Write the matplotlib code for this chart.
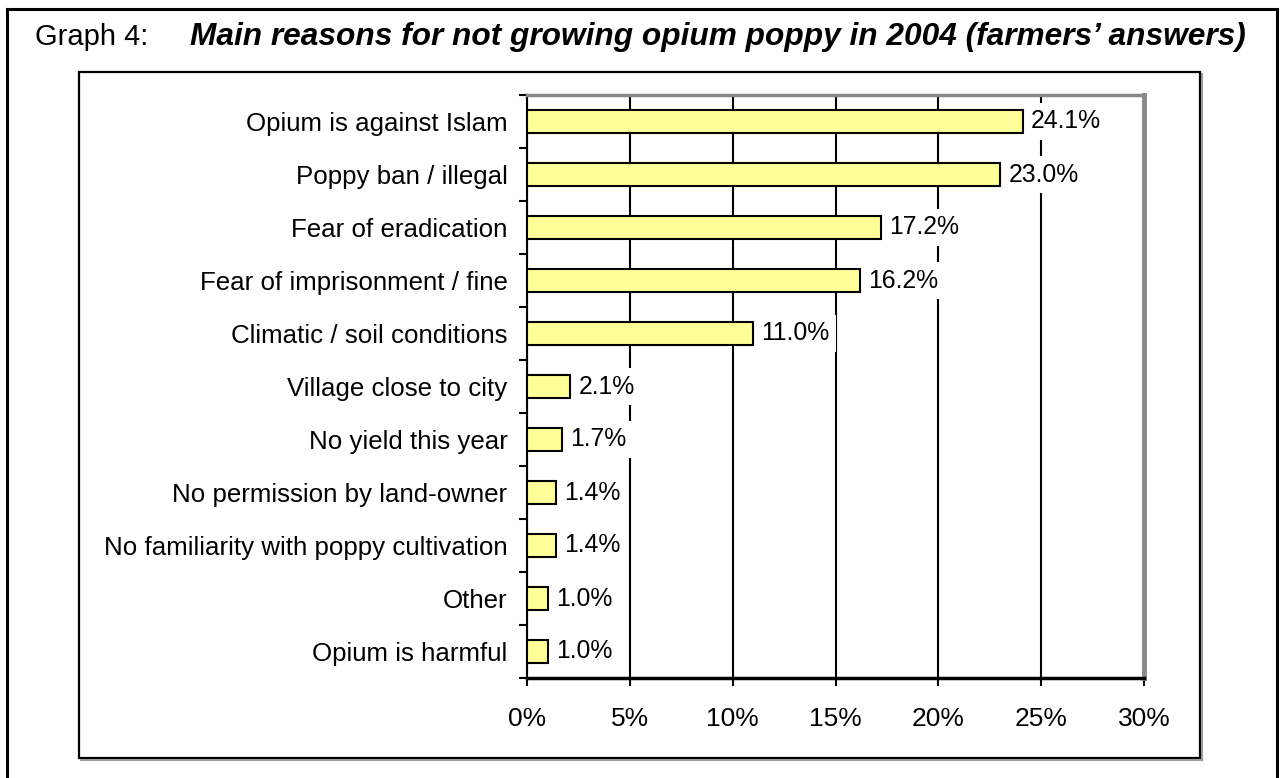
import matplotlib.pyplot as plt
from matplotlib.lines import Line2D
from matplotlib.patches import Rectangle

plt.rcParams['font.family'] = ['Liberation Sans', 'DejaVu Sans']

# reasons for not growing poppy, share of farmers' answers (%)
reasons = [
    "Opium is against Islam",
    "Poppy ban / illegal",
    "Fear of eradication",
    "Fear of imprisonment / fine",
    "Climatic / soil conditions",
    "Village close to city",
    "No yield this year",
    "No permission by land-owner",
    "No familiarity with poppy cultivation",
    "Other",
    "Opium is harmful",
]
shares = [24.1, 23.0, 17.2, 16.2, 11.0, 2.1, 1.7, 1.4, 1.4, 1.0, 1.0]
xticks = [0, 5, 10, 15, 20, 25, 30]

W, H = 1283, 778
fig = plt.figure(figsize=(W / 100, H / 100), dpi=100)


def fx(px):
    return px / W


def fy(py):
    return 1 - py / H


# outer page border (open at the bottom)
for xs, ys in [([7, 7], [H + 5, 9]), ([7, 1277], [9, 9]), ([1277, 1277], [9, H + 5])]:
    fig.add_artist(Line2D([fx(x) for x in xs], [fy(y) for y in ys],
                          color="black", lw=2.2, transform=fig.transFigure))

# inner chart frame with a thin shadow
fig.add_artist(Line2D([fx(81), fx(1202)], [fy(760), fy(760)], color="#9a9a9a",
                      lw=1.5, transform=fig.transFigure))
fig.add_artist(Line2D([fx(1202), fx(1202)], [fy(74), fy(760)], color="#9a9a9a",
                      lw=1.5, transform=fig.transFigure))
fig.add_artist(Rectangle((fx(79), fy(758)), fx(1200) - fx(79), fy(72) - fy(758),
                         fill=False, ec="black", lw=1.6, transform=fig.transFigure))

fig.text(fx(35), fy(37), "Graph 4:", fontsize=21, va="center", ha="left")
fig.text(fx(190), fy(37),
         "Main reasons for not growing opium poppy in 2004 (farmers\u2019 answers)",
         fontsize=22.8, va="center", ha="left", fontweight="bold", fontstyle="italic")

ax = fig.add_axes([fx(527), fy(678), fx(1144) - fx(527), fy(95) - fy(678)])

pos = list(range(len(reasons)))
ax.barh(pos, shares, height=0.44, color="#ffff99", edgecolor="black",
        linewidth=1.5, zorder=3)

for p, v in zip(pos, shares):
    ax.annotate(f"{v:.1f}%", (v, p), xytext=(6, 0), textcoords="offset points",
                va="center", ha="left", fontsize=17.8, zorder=5,
                bbox=dict(boxstyle="square,pad=0.25", fc="white", ec="none"))

ax.set_xlim(0, 30)
ax.set_ylim(len(reasons) - 0.5, -0.5)
ax.set_xticks(xticks)
ax.set_xticklabels([f"{t}%" for t in xticks], fontsize=19)
ax.set_yticks(pos)
ax.set_yticklabels(reasons, fontsize=18.6)
ax.set_yticks([p - 0.5 for p in pos] + [len(reasons) - 0.5], minor=True)

ax.tick_params(axis="y", which="major", length=0, pad=14)
ax.tick_params(axis="y", which="minor", length=6, width=1.5, color="black")
ax.tick_params(axis="x", length=6, width=1.5, pad=15)

ax.xaxis.grid(True, color="black", lw=1.5, zorder=1)
ax.set_axisbelow(True)

ax.spines["top"].set_color("#888888")
ax.spines["top"].set_linewidth(2.5)
ax.spines["right"].set_color("#888888")
ax.spines["right"].set_linewidth(3.5)
ax.spines["left"].set_linewidth(1.5)
ax.spines["bottom"].set_linewidth(2.5)

fig.savefig("out.png", dpi=100)
